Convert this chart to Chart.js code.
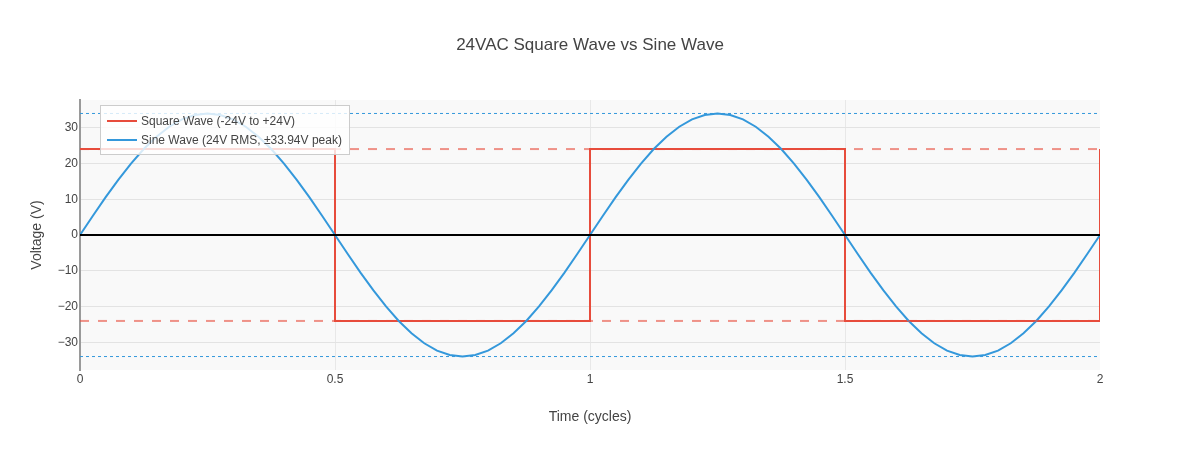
<!DOCTYPE html>
<html>
<head>
<meta charset="utf-8">
<script src="https://cdn.jsdelivr.net/npm/chart.js@4"></script>
<style>
  html, body { margin: 0; padding: 0; background: #fff; }
  #wrap { width: 1180px; height: 450px; position: relative; }
</style>
</head>
<body>
<div id="wrap"><canvas id="c" width="1180" height="450"></canvas></div>
<script>
// ---- Data ----
const chartTitle = '24VAC Square Wave vs Sine Wave';
const xTitle = 'Time (cycles)';
const yTitle = 'Voltage (V)';
const squareLabel = 'Square Wave (-24V to +24V)';
const sineLabel = 'Sine Wave (24V RMS, ±33.94V peak)';

const squareTimes = [0, 0.5, 0.5, 1, 1, 1.5, 1.5, 2, 2];
const squareVolts = [24, 24, -24, -24, 24, 24, -24, -24, 24];

const sineTimes = [0,0.025,0.05,0.075,0.1,0.125,0.15,0.175,0.2,0.225,0.25,0.275,0.3,0.325,0.35,0.375,0.4,0.425,0.45,0.475,0.5,
  0.525,0.55,0.575,0.6,0.625,0.65,0.675,0.7,0.725,0.75,0.775,0.8,0.825,0.85,0.875,0.9,0.925,0.95,0.975,1,
  1.025,1.05,1.075,1.1,1.125,1.15,1.175,1.2,1.225,1.25,1.275,1.3,1.325,1.35,1.375,1.4,1.425,1.45,1.475,1.5,
  1.525,1.55,1.575,1.6,1.625,1.65,1.675,1.7,1.725,1.75,1.775,1.8,1.825,1.85,1.875,1.9,1.925,1.95,1.975,2];
const sineVolts = [0,5.31,10.49,15.41,19.95,24.00,27.46,30.24,32.28,33.52,33.94,33.52,32.28,30.24,27.46,24.00,19.95,15.41,10.49,5.31,0,
  -5.31,-10.49,-15.41,-19.95,-24.00,-27.46,-30.24,-32.28,-33.52,-33.94,-33.52,-32.28,-30.24,-27.46,-24.00,-19.95,-15.41,-10.49,-5.31,0,
  5.31,10.49,15.41,19.95,24.00,27.46,30.24,32.28,33.52,33.94,33.52,32.28,30.24,27.46,24.00,19.95,15.41,10.49,5.31,0,
  -5.31,-10.49,-15.41,-19.95,-24.00,-27.46,-30.24,-32.28,-33.52,-33.94,-33.52,-32.28,-30.24,-27.46,-24.00,-19.95,-15.41,-10.49,-5.31,0];

const refSpan = [0, 2];
const squareLevels = [24, -24];
const sinePeaks = [33.94, -33.94];
const zeroLevel = 0;

const xTicks = [0, 0.5, 1, 1.5, 2];
const xGridLines = [0, 0.5, 1, 1.5];
const yTicks = [-30, -20, -10, 0, 10, 20, 30];
const yRange = [-37.7, 37.7];

// ---- Helpers ----
const pts = (xs, ys) => xs.map((x, i) => ({ x, y: ys[i] }));
const hline = (v) => refSpan.map(x => ({ x, y: v }));

const RED = '#e74c3c', BLUE = '#3498db';
const FONT = '"Liberation Sans", Arial, sans-serif';

const bgPlugin = {
  id: 'plotBg',
  beforeDraw(chart) {
    const { ctx, chartArea: a } = chart;
    ctx.save();
    ctx.fillStyle = '#f9f9f9';
    ctx.fillRect(a.left, a.top, a.right - a.left, a.bottom - a.top);
    ctx.restore();
  }
};

const legendPlugin = {
  id: 'insideLegend',
  afterDraw(chart) {
    const ctx = chart.ctx;
    ctx.save();
    ctx.fillStyle = 'rgba(255,255,255,0.8)';
    ctx.fillRect(100, 105, 249, 49);
    ctx.strokeStyle = '#cccccc';
    ctx.lineWidth = 1;
    ctx.strokeRect(100.5, 105.5, 249, 49);
    const items = [[squareLabel, RED, 121], [sineLabel, BLUE, 140]];
    ctx.font = '12px ' + FONT;
    ctx.textBaseline = 'middle';
    ctx.textAlign = 'left';
    for (const [label, color, y] of items) {
      ctx.strokeStyle = color;
      ctx.lineWidth = 2;
      ctx.beginPath();
      ctx.moveTo(107, y);
      ctx.lineTo(137, y);
      ctx.stroke();
      ctx.fillStyle = '#444';
      ctx.fillText(label, 141, y + 0.5);
    }
    ctx.restore();
  }
};

const lineDefaults = { pointRadius: 0, pointHoverRadius: 0, fill: false, tension: 0 };

new Chart(document.getElementById('c'), {
  type: 'line',
  data: {
    datasets: [
      Object.assign({ label: 'zero', data: hline(zeroLevel), borderColor: '#000', borderWidth: 2 }, lineDefaults),
      Object.assign({ label: '+24 ref', data: hline(squareLevels[0]), borderColor: 'rgba(231,76,60,0.6)', borderWidth: 2, borderDash: [9, 9] }, lineDefaults),
      Object.assign({ label: '-24 ref', data: hline(squareLevels[1]), borderColor: 'rgba(231,76,60,0.6)', borderWidth: 2, borderDash: [9, 9] }, lineDefaults),
      Object.assign({ label: '+peak', data: hline(sinePeaks[0]), borderColor: BLUE, borderWidth: 1, borderDash: [3, 3] }, lineDefaults),
      Object.assign({ label: '-peak', data: hline(sinePeaks[1]), borderColor: BLUE, borderWidth: 1, borderDash: [3, 3] }, lineDefaults),
      Object.assign({ label: sineLabel, data: pts(sineTimes, sineVolts), borderColor: BLUE, borderWidth: 2 }, lineDefaults),
      Object.assign({ label: squareLabel, data: pts(squareTimes, squareVolts), borderColor: RED, borderWidth: 2, clip: 0 }, lineDefaults)
    ]
  },
  options: {
    responsive: false,
    animation: false,
    layout: { padding: 0 },
    plugins: {
      legend: { display: false },
      tooltip: { enabled: false },
      title: {
        display: true,
        text: chartTitle,
        color: '#444',
        font: { family: FONT, size: 17, weight: 'normal', lineHeight: 1.2 },
        padding: { top: 35, bottom: 44.6 }
      }
    },
    scales: {
      x: {
        type: 'linear',
        min: 0, max: 2,
        afterBuildTicks: s => { s.ticks = xTicks.map(v => ({ value: v })); },
        afterFit: s => { s.height = 80; },
        ticks: {
          color: '#444', font: { family: FONT, size: 12 }, padding: 2, maxRotation: 0,
          callback: v => String(v)
        },
        grid: {
          color: ctx => (ctx.tick && xGridLines.includes(ctx.tick.value)) ? '#e8e8e8' : 'rgba(0,0,0,0)',
          lineWidth: 1, drawTicks: false
        },
        border: { display: false },
        title: {
          display: true, text: xTitle, color: '#444',
          font: { family: FONT, size: 14, lineHeight: 1.2 },
          padding: { top: 0, bottom: 24.6 }
        }
      },
      y: {
        type: 'linear',
        position: 'left',
        min: yRange[0], max: yRange[1],
        afterBuildTicks: s => { s.ticks = yTicks.map(v => ({ value: v })); },
        afterFit: s => { s.width = 80; },
        ticks: {
          color: '#444', font: { family: FONT, size: 12 }, padding: 2,
          callback: v => String(v).replace('-', '\u2212')
        },
        grid: { color: '#e3e3e3', lineWidth: 1, drawTicks: false },
        border: { display: true, color: '#9a9a9a', width: 2 },
        title: {
          display: true, text: yTitle, color: '#444',
          font: { family: FONT, size: 14, lineHeight: 1.2 },
          padding: { top: 28.6, bottom: 0 }
        }
      },
      yRightSpacer: {
        type: 'linear',
        position: 'right',
        min: yRange[0], max: yRange[1],
        afterFit: s => { s.width = 80; },
        ticks: { display: false },
        grid: { display: false, drawTicks: false },
        border: { display: false },
        title: { display: false }
      }
    }
  },
  plugins: [bgPlugin, legendPlugin]
});
</script>
</body>
</html>
